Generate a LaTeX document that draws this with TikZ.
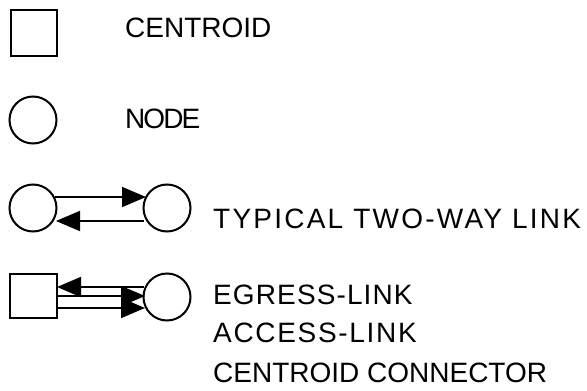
\documentclass[tikz,border=0pt]{standalone}
\usepackage{fontspec}
\setmainfont{Liberation Sans}
\usetikzlibrary{arrows.meta}
\tikzset{
 px/.style={x=1pt,y=-1pt},
 shp/.style={draw,line width=2pt,inner sep=0pt,minimum size=#1,outer sep=0pt},
 lab/.style={anchor=west,inner sep=0pt,font=\fontsize{28}{32}\selectfont\addfontfeatures{LetterSpace=#1}},
 lab/.default=0,
 lnk/.style={line width=1.8pt,-{Triangle[length=24pt,width=20pt]}}
}
\begin{document}
\begin{tikzpicture}[px]
\useasboundingbox (0,0) rectangle (587,391);
\node[shp=46pt,rectangle] (c1) at (33.5,33) {};
\node[lab] (t1) at (125,28) {CENTROID};
\node[shp=47pt,circle] (n1) at (33,120) {};
\node[lab=-7] (t2) at (125,119) {NODE};
\node[shp=47pt,circle] (a) at (33,208) {};
\node[shp=47pt,circle] (b) at (167,208) {};
\coordinate (a1) at (55,197); \coordinate (b1) at (146,197);
\coordinate (a2) at (56,221); \coordinate (b2) at (144,221);
\draw[lnk] (a1) -- (b1);
\draw[lnk] (b2) -- (a2);
\node[lab=8] (t3) at (213,219) {TYPICAL TWO-WAY LINK};
\node[shp=44pt,rectangle,minimum width=47pt] (c2) at (33,296) {};
\node[shp=47pt,circle] (d) at (167,297) {};
\coordinate (c2a) at (57,287); \coordinate (da) at (144,287);
\coordinate (c2b) at (57,296); \coordinate (db) at (145,296);
\coordinate (c2c) at (57,308); \coordinate (dc) at (145,308);
\draw[lnk] (da) -- (c2a);
\draw[lnk] (c2b) -- (db);
\draw[lnk] (c2c) -- (dc);
\node[lab=4] (t4) at (213,295) {EGRESS-LINK};
\node[lab=6] (t5) at (213,333) {ACCESS-LINK};
\node[lab] (t6) at (213,373) {CENTROID CONNECTOR};
\end{tikzpicture}
\end{document}
